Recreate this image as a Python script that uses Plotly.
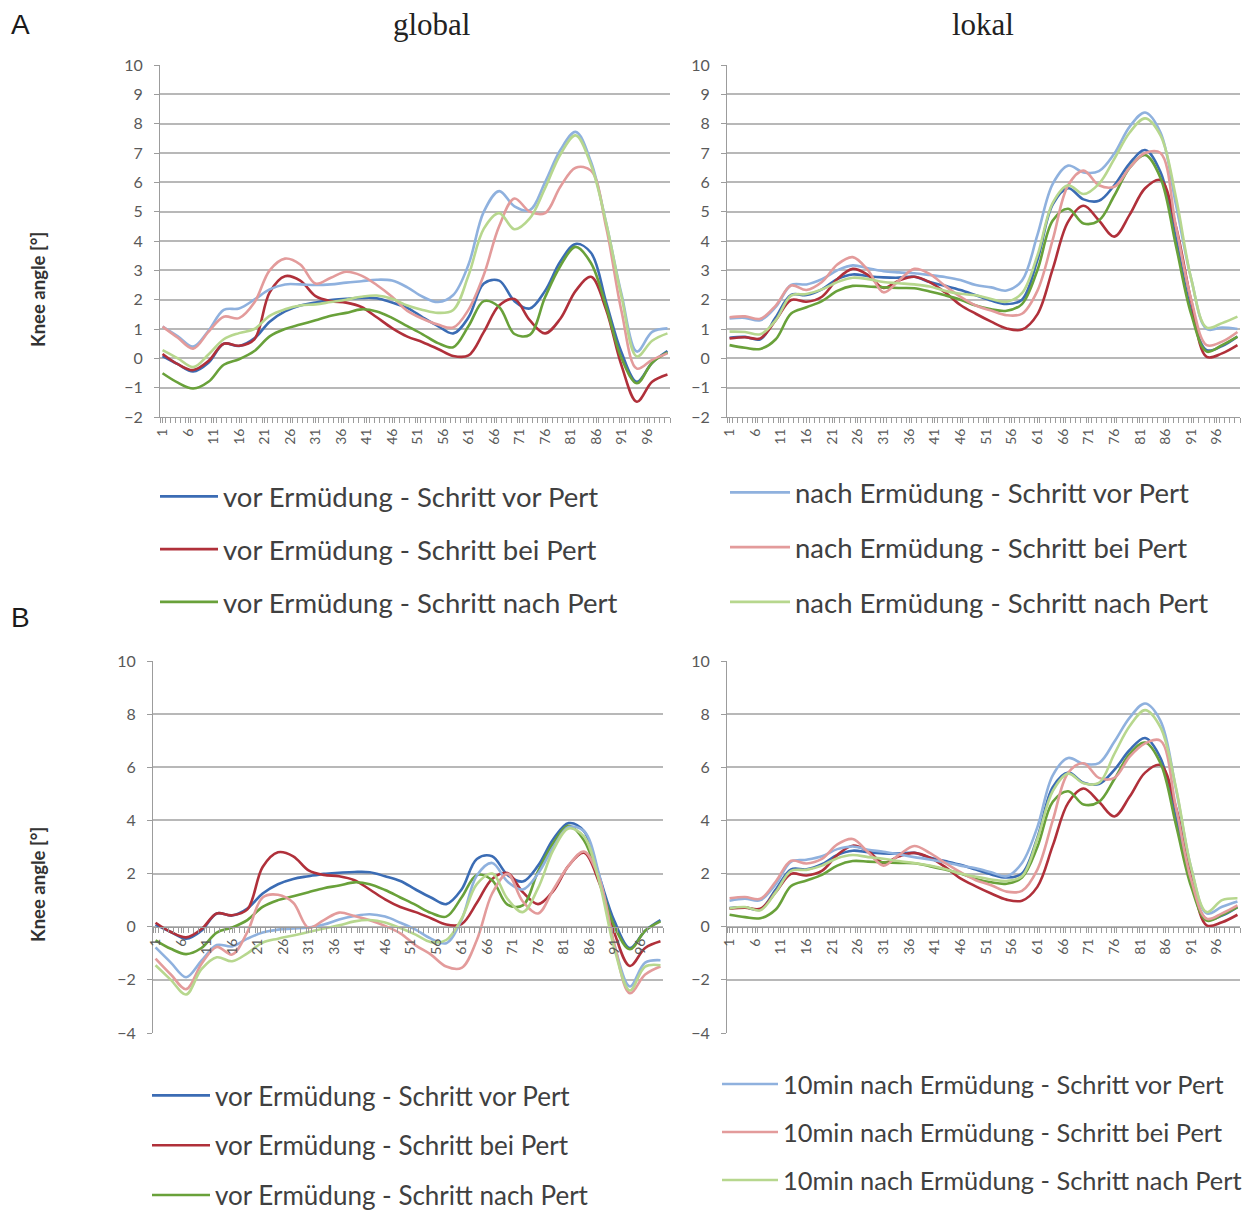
import plotly.graph_objects as go

# ---------------- data (knee angle in degrees, sampled along the gait cycle) ----------------
X = [1, 4, 7, 10, 13, 16, 19, 22, 25, 28, 31, 34, 37, 40, 43, 46, 49, 52, 55, 58,
     61, 64, 67, 70, 73, 76, 79, 82, 85, 88, 91, 94, 97, 100]

# A - global
A_global_vor_vor = [0.08, -0.2, -0.45, -0.15, 0.5, 0.42, 0.68, 1.25, 1.6, 1.8,
                    1.9, 1.99, 2.03, 2.06, 2.05, 1.9, 1.72, 1.4, 1.1, 0.85,
                    1.4, 2.55, 2.65, 1.95, 1.7, 2.3, 3.3, 3.9, 3.6, 1.9,
                    0.2, -0.8, -0.15, 0.25]
A_global_vor_bei = [0.15, -0.2, -0.4, -0.09, 0.5, 0.43, 0.65, 2.25, 2.8, 2.65,
                    2.12, 1.95, 1.9, 1.75, 1.4, 1.03, 0.74, 0.55, 0.32, 0.08,
                    0.1, 0.9, 1.8, 2.02, 1.3, 0.85, 1.35, 2.3, 2.78, 1.65,
                    -0.25, -1.48, -0.8, -0.55]
A_global_vor_nach = [-0.51, -0.83, -1.03, -0.8, -0.22, -0.03, 0.25, 0.75, 1.0, 1.15,
                     1.3, 1.45, 1.55, 1.67, 1.6, 1.38, 1.1, 0.82, 0.52, 0.38,
                     1.1, 1.95, 1.75, 0.83, 0.8, 2.08, 3.15, 3.8, 3.25, 1.75,
                     0.0, -0.85, -0.15, 0.2]
A_global_nach_vor = [1.08, 0.75, 0.4, 0.94, 1.65, 1.7, 2.0, 2.35, 2.52, 2.52,
                     2.5, 2.52, 2.58, 2.63, 2.68, 2.65, 2.42, 2.1, 1.92, 2.16,
                     3.2, 5.0, 5.7, 5.18, 5.05, 6.0, 7.1, 7.72, 6.7, 4.6,
                     2.18, 0.23, 0.9, 1.02]
A_global_nach_bei = [1.08, 0.7, 0.33, 0.9, 1.42, 1.37, 1.9, 3.0, 3.4, 3.2,
                     2.55, 2.75, 2.95, 2.82, 2.5, 2.1, 1.62, 1.35, 1.15, 1.05,
                     1.66, 2.85, 4.5, 5.45, 5.0, 4.95, 5.85, 6.5, 6.4, 4.45,
                     1.6, -0.35, -0.05, 0.17]
A_global_nach_nach = [0.28, 0.0, -0.3, 0.13, 0.65, 0.86, 1.0, 1.45, 1.67, 1.8,
                      1.84, 1.92, 2.0, 2.1, 2.14, 2.03, 1.8, 1.65, 1.55, 1.65,
                      2.83, 4.42, 4.95, 4.4, 4.77, 5.8, 6.95, 7.6, 6.6, 4.6,
                      2.1, 0.06, 0.6, 0.85]

# A - lokal
A_lokal_vor_vor = [0.7, 0.73, 0.65, 1.4, 2.16, 2.16, 2.35, 2.7, 2.86, 2.8,
                   2.76, 2.75, 2.78, 2.6, 2.47, 2.33, 2.15, 1.97, 1.85, 2.0,
                   3.35, 5.25, 5.8, 5.42, 5.37, 5.9, 6.65, 7.1, 6.35, 4.1,
                   1.6, 0.28, 0.42, 0.74]
A_lokal_vor_bei = [0.68, 0.72, 0.68, 1.3, 1.99, 1.93, 2.1, 2.7, 3.05, 2.84,
                   2.4, 2.65, 2.78, 2.6, 2.25, 1.82, 1.52, 1.25, 1.02, 0.98,
                   1.5, 3.05, 4.66, 5.2, 4.7, 4.15, 4.9, 5.8, 6.08, 4.5,
                   1.95, 0.05, 0.17, 0.45]
A_lokal_vor_nach = [0.45, 0.36, 0.32, 0.65, 1.53, 1.74, 1.95, 2.3, 2.47, 2.45,
                    2.42, 2.4, 2.39, 2.28, 2.15, 2.0, 1.8, 1.67, 1.62, 1.85,
                    3.0, 4.7, 5.1, 4.6, 4.7, 5.55, 6.5, 6.93, 6.15, 3.85,
                    1.5, 0.23, 0.45, 0.74]
A_lokal_nach_vor = [1.36, 1.38, 1.3, 1.75, 2.5, 2.52, 2.7, 3.0, 3.17, 3.07,
                    2.97, 2.93, 2.9, 2.84, 2.77, 2.67, 2.5, 2.42, 2.31, 2.65,
                    4.2, 5.95, 6.57, 6.34, 6.38, 6.98, 7.9, 8.38, 7.7, 5.25,
                    2.7, 1.0, 1.05, 1.0]
A_lokal_nach_bei = [1.4, 1.43, 1.35, 1.8, 2.48, 2.33, 2.6, 3.2, 3.45, 3.0,
                    2.25, 2.65, 3.05, 2.88, 2.47, 2.1, 1.8, 1.63, 1.47, 1.52,
                    2.3, 4.05, 5.9, 6.4, 5.9, 5.85, 6.5, 7.0, 7.0, 4.5,
                    2.0, 0.45, 0.57, 0.9]
A_lokal_nach_nach = [0.91, 0.9, 0.82, 1.3, 2.14, 2.19, 2.35, 2.6, 2.75, 2.7,
                     2.6, 2.56, 2.52, 2.45, 2.3, 2.2, 2.15, 2.02, 1.93, 2.22,
                     3.5, 5.3, 5.9, 5.6, 5.95, 6.8, 7.7, 8.18, 7.6, 5.5,
                     2.7, 1.05, 1.2, 1.42]

# B - global (10 min after fatigue)
B_global_10_vor = [-0.78, -1.35, -1.9, -1.28, -0.69, -0.74, -0.45, -0.22, -0.11, -0.07,
                   -0.03, 0.08, 0.27, 0.4, 0.47, 0.38, 0.15, -0.11, -0.45, -0.62,
                   0.26, 1.93, 2.4, 1.7, 1.4, 2.0, 3.0, 3.75, 3.6, 1.95,
                   -0.7, -2.25, -1.35, -1.26]
B_global_10_bei = [-1.2, -1.8, -2.35, -1.4, -0.76, -1.05, -0.2, 1.1, 1.2, 0.9,
                   -0.04, 0.25, 0.53, 0.4, 0.24, 0.03, -0.25, -0.7, -1.05, -1.5,
                   -1.55, -0.5, 1.25, 1.99, 0.95, 0.5, 1.4, 2.3, 2.83, 1.8,
                   -0.7, -2.5, -1.8, -1.5]
B_global_10_nach = [-1.45, -2.0, -2.55, -1.6, -1.15, -1.3, -1.0, -0.6, -0.45, -0.33,
                    -0.2, -0.07, 0.05, 0.2, 0.25, 0.16, -0.05, -0.3, -0.58, -0.5,
                    0.3, 1.6, 2.0, 1.05, 0.55, 1.45, 2.89, 3.7, 3.4, 1.7,
                    -0.85, -2.4, -1.5, -1.45]

# B - lokal (10 min after fatigue)
B_lokal_10_vor = [0.98, 1.05, 1.0, 1.6, 2.45, 2.52, 2.65, 2.92, 3.02, 2.9,
                  2.82, 2.72, 2.62, 2.53, 2.42, 2.3, 2.2, 2.05, 1.9, 2.4,
                  3.75, 5.7, 6.35, 6.13, 6.16, 6.96, 7.87, 8.4, 7.75, 5.2,
                  2.2, 0.5, 0.75, 0.95]
B_lokal_10_bei = [1.07, 1.12, 1.05, 1.7, 2.48, 2.38, 2.55, 3.1, 3.3, 2.8,
                  2.3, 2.7, 3.04, 2.78, 2.4, 2.05, 1.75, 1.56, 1.32, 1.35,
                  2.15, 4.0, 5.79, 6.15, 5.6, 5.6, 6.4, 6.9, 7.0, 4.5,
                  1.75, 0.3, 0.5, 0.8]
B_lokal_10_nach = [0.69, 0.74, 0.62, 1.3, 2.1, 2.14, 2.3, 2.58, 2.7, 2.62,
                   2.56, 2.47, 2.4, 2.3, 2.17, 2.0, 1.88, 1.78, 1.72, 1.9,
                   3.3, 5.1, 5.76, 5.4, 5.41, 6.5, 7.55, 8.15, 7.5, 5.25,
                   2.2, 0.55, 1.0, 1.07]

NAMES_VOR = ["vor Ermüdung - Schritt vor Pert", "vor Ermüdung - Schritt bei Pert",
             "vor Ermüdung - Schritt nach Pert"]
NAMES_NACH = ["nach Ermüdung - Schritt vor Pert", "nach Ermüdung - Schritt bei Pert",
              "nach Ermüdung - Schritt nach Pert"]
NAMES_10 = ["10min nach Ermüdung - Schritt vor Pert", "10min nach Ermüdung - Schritt bei Pert",
            "10min nach Ermüdung - Schritt nach Pert"]

DARK = ["#3b6cb4", "#b0303a", "#69a13a"]
LIGHT = ["#8fb1de", "#e39b9b", "#b7d78e"]

W, H = 1249, 1214
def fx(p):
    return p / W
def fy(p):
    return 1 - p / H

fig = go.Figure()

def add_panel(xa, ya, dark_series, light_series, light_names, leg_dark, leg_light, show):
    for i, s in enumerate(dark_series):
        fig.add_trace(go.Scatter(
            x=X, y=s, mode="lines", name=NAMES_VOR[i],
            line=dict(color=DARK[i], width=2.6, shape="spline", smoothing=1.0),
            xaxis=xa, yaxis=ya, legend=leg_dark, showlegend=show,
            legendgroup=f"{leg_dark}_{i}"))
    for i, s in enumerate(light_series):
        fig.add_trace(go.Scatter(
            x=X, y=s, mode="lines", name=light_names[i],
            line=dict(color=LIGHT[i], width=2.6, shape="spline", smoothing=1.0),
            xaxis=xa, yaxis=ya, legend=leg_light, showlegend=show,
            legendgroup=f"{leg_light}_{i}"))

add_panel("x", "y",
          [A_global_vor_vor, A_global_vor_bei, A_global_vor_nach],
          [A_global_nach_vor, A_global_nach_bei, A_global_nach_nach],
          NAMES_NACH, "legend", "legend2", True)
add_panel("x2", "y2",
          [A_lokal_vor_vor, A_lokal_vor_bei, A_lokal_vor_nach],
          [A_lokal_nach_vor, A_lokal_nach_bei, A_lokal_nach_nach],
          NAMES_NACH, "legend", "legend2", False)
add_panel("x3", "y3",
          [A_global_vor_vor, A_global_vor_bei, A_global_vor_nach],
          [B_global_10_vor, B_global_10_bei, B_global_10_nach],
          NAMES_10, "legend3", "legend4", True)
add_panel("x4", "y4",
          [A_lokal_vor_vor, A_lokal_vor_bei, A_lokal_vor_nach],
          [B_lokal_10_vor, B_lokal_10_bei, B_lokal_10_nach],
          NAMES_10, "legend3", "legend4", False)

AXC = "#9c9c9c"
TICKFONT_X = dict(family="Lato", size=14, color="#595959")
TICKFONT_Y = dict(family="Lato", size=16, color="#595959")

def xax(domain, anchor, position=None):
    d = dict(domain=domain, range=[0.5, 100.5], tickmode="linear", tick0=1, dtick=5,
             tickangle=-90, ticks="outside", ticklen=5, tickcolor=AXC,
             showline=True, linecolor=AXC, linewidth=1, showgrid=False, zeroline=False,
             tickfont=TICKFONT_X, automargin=False,
             minor=dict(tick0=0.5, dtick=1, ticks="outside", ticklen=5, tickcolor=AXC,
                        showgrid=False))
    if position is None:
        d["anchor"] = anchor
    else:
        d["anchor"] = "free"
        d["position"] = position
    return d

def yax(domain, anchor, rng, dt):
    return dict(domain=domain, anchor=anchor, range=rng, tickmode="linear", tick0=0, dtick=dt,
                showline=True, linecolor=AXC, linewidth=1, ticks="outside", ticklen=5,
                tickcolor=AXC, showgrid=True, gridcolor="#b8b8b8", gridwidth=1.5,
                zeroline=False, tickfont=TICKFONT_Y, automargin=False,
                ticklabelstandoff=8)

A_Y = [fy(417), fy(65)]
B_Y = [fy(1033), fy(661)]
L_X = [fx(160), fx(670)]
R_X = [fx(727), fx(1240)]
BL_X = [fx(153), fx(663)]

legfont_A = dict(family="Lato", size=27.5, color="#404040")
legfont_BL = dict(family="Lato", size=26, color="#404040")
legfont_BR = dict(family="Lato", size=25.4, color="#404040")

def leg(xp, ytop, font, gap, iw):
    return dict(x=fx(xp), y=fy(ytop), xanchor="left", yanchor="top", font=font,
                tracegroupgap=gap, bgcolor="rgba(0,0,0,0)", itemwidth=iw)

def ann(text, xp, yp, font, angle=0):
    return dict(text=text, x=fx(xp), y=fy(yp), xref="paper", yref="paper",
                xanchor="center", yanchor="middle", showarrow=False,
                textangle=angle, font=font)

fig.update_layout(
    width=W, height=H, autosize=False,
    margin=dict(l=0, r=0, t=0, b=0, pad=0, autoexpand=False),
    paper_bgcolor="white", plot_bgcolor="white",
    xaxis=xax(L_X, "y"),
    yaxis=yax(A_Y, "x", [-2, 10], 1),
    xaxis2=xax(R_X, "y2"),
    yaxis2=yax(A_Y, "x2", [-2, 10], 1),
    xaxis3=xax(BL_X, None, position=fy(927)),
    yaxis3=yax(B_Y, "x3", [-4, 10], 2),
    xaxis4=xax(R_X, None, position=fy(927)),
    yaxis4=yax(B_Y, "x4", [-4, 10], 2),
    legend=leg(155, 472, legfont_A, 14, 58),
    legend2=leg(725, 468, legfont_A, 16, 60),
    legend3=leg(147, 1072, legfont_BL, 13, 58),
    legend4=leg(717, 1061, legfont_BR, 12, 56),
    annotations=[
        ann("A", 20, 25, dict(family="Liberation Sans", size=28, color="#1a1a1a")),
        ann("B", 20, 617, dict(family="Liberation Sans", size=28, color="#1a1a1a")),
        ann("global", 432, 25, dict(family="Liberation Serif", size=31, color="#222222")),
        ann("lokal", 983, 25, dict(family="Liberation Serif", size=31, color="#222222")),
        ann("<b>Knee angle [°]</b>", 38, 290, dict(family="Lato", size=18.5, color="#333333"), -90),
        ann("<b>Knee angle [°]</b>", 38, 885, dict(family="Lato", size=18.5, color="#333333"), -90),
    ],
)

fig.write_html("out.html", config={"displayModeBar": False},
               post_script="document.body.style.margin='0';")
